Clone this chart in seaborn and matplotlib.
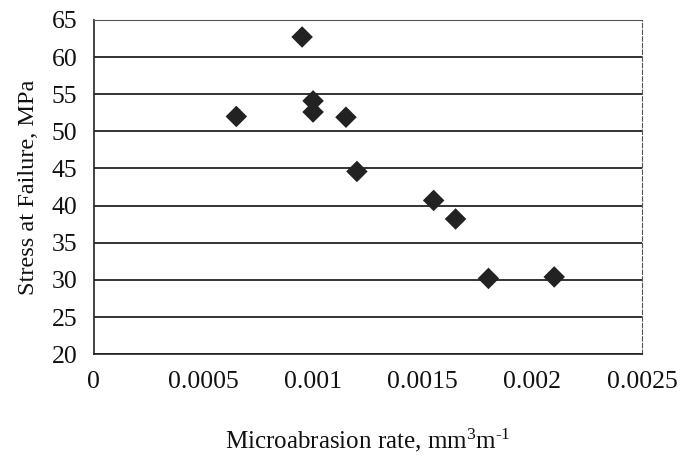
import pandas as pd
import seaborn as sns
import matplotlib.pyplot as plt

# data
rate = [0.00065, 0.00095, 0.0010, 0.0010, 0.00115, 0.0012, 0.00155, 0.00165, 0.0018, 0.0021]
stress = [52.0, 62.7, 54.1, 52.6, 51.9, 44.6, 40.7, 38.2, 30.2, 30.4]

x_ticks = [0, 0.0005, 0.001, 0.0015, 0.002, 0.0025]
x_tick_labels = ["0", "0.0005", "0.001", "0.0015", "0.002", "0.0025"]
y_ticks = [20, 25, 30, 35, 40, 45, 50, 55, 60, 65]

df = pd.DataFrame({"rate": rate, "stress": stress})

sns.set_style("white")
plt.rcParams['font.family'] = ['Liberation Serif', 'DejaVu Serif']
plt.rcParams['mathtext.fontset'] = 'custom'
plt.rcParams['mathtext.rm'] = 'Liberation Serif'
plt.rcParams['mathtext.it'] = 'Liberation Serif'

fig = plt.figure(figsize=(6.8, 4.63), dpi=100)
ax = fig.add_axes([0.138, 0.235, 0.806, 0.722])

# horizontal grid lines
for y in y_ticks:
    ax.axhline(y, color="#111111", lw=1.2, zorder=1)

sns.scatterplot(data=df, x="rate", y="stress", marker="D", s=120,
                color="#222222", edgecolor="none", ax=ax, zorder=3)

ax.set_xlim(0, 0.0025)
ax.set_ylim(20, 65)
ax.set_xticks(x_ticks)
ax.set_xticklabels(x_tick_labels)
ax.set_yticks(y_ticks)

ax.tick_params(axis="both", direction="inout", length=8, width=1, color="#222222",
               labelsize=18.5, labelcolor="#111111")
ax.tick_params(axis="x", pad=8)
ax.tick_params(axis="y", pad=8)

ax.set_xlabel(r"Microabrasion rate, mm$^{\mathrm{3}}$m$^{\text{-1}}$", fontsize=18,
              labelpad=24, color="#111111")
ax.set_ylabel("Stress at Failure, MPa", fontsize=17.5, labelpad=9, color="#111111")

for side in ["left", "bottom"]:
    ax.spines[side].set_color("#222222")
    ax.spines[side].set_linewidth(1.2)
ax.spines["top"].set_color("#555555")
ax.spines["top"].set_linewidth(0.8)
ax.spines["right"].set_color("#555555")
ax.spines["right"].set_linewidth(0.8)
ax.spines["right"].set_linestyle((0, (4, 2)))

fig.savefig("out.png", dpi=100)
